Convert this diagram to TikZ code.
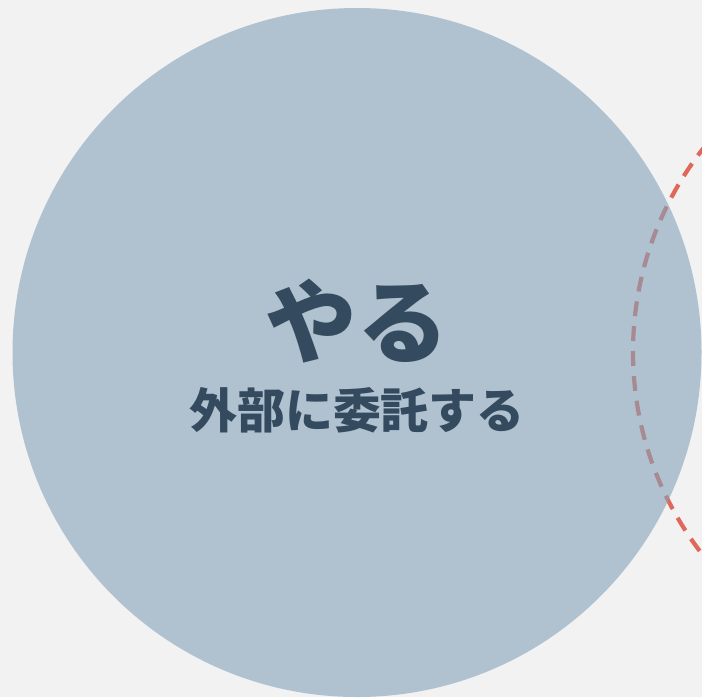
\documentclass[tikz,border=0pt]{standalone}
\usepackage{xcolor}
\usepackage{tikz}
\usepackage{fontspec}
\newfontfamily\jpfont{Noto Sans CJK JP}

\definecolor{bgGray}{HTML}{F2F2F2}
\definecolor{doBlue}{RGB}{132,162,186}
\definecolor{textSlate}{HTML}{344A5E}
\definecolor{edgeRed}{HTML}{E0685A}

\begin{document}
\begin{tikzpicture}[x=0.02cm,y=-0.02cm]
        % Canvas
        \useasboundingbox (0,0) rectangle (702,697);
        \clip (0,0) rectangle (702,697);
        \fill[bgGray] (0,0) rectangle (702,697);

        % Neighbouring circle (dashed)
        \draw[edgeRed, line width=2.4pt, dash pattern=on 8.5pt off 5.7pt] (963,352) circle (330);

        % Main circle
        \fill[doBlue, fill opacity=0.6] (357,352.5) circle (344.5);

        % Labels
        \node[textSlate, font=\jpfont\bfseries\fontsize{52}{58}\selectfont] (main) at (357,321) {やる};
        \node[textSlate, font=\jpfont\bfseries\fontsize{27.3}{31}\selectfont] (sub) at (357,410) {外部に委託する};
    \end{tikzpicture}
\end{document}
